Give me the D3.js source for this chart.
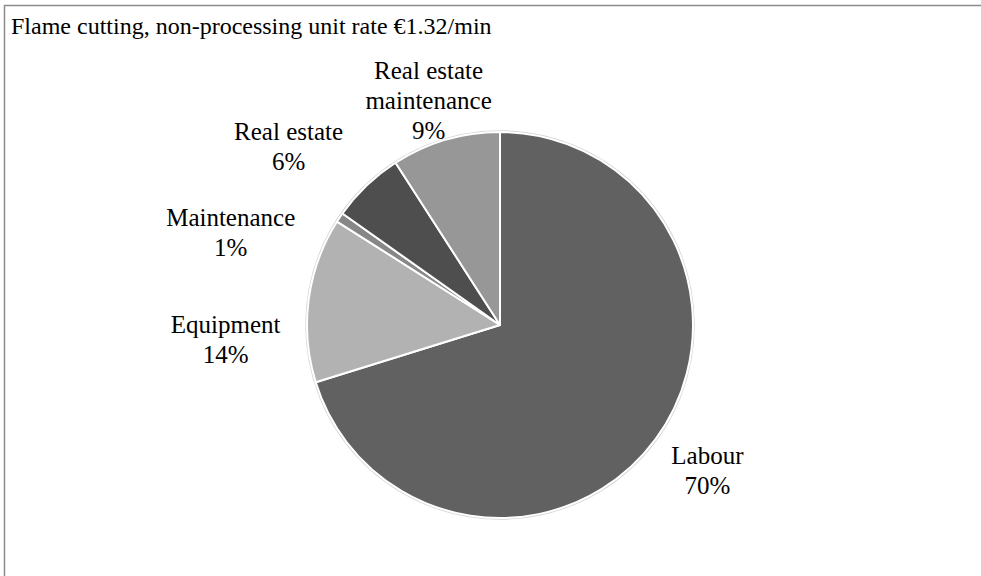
<!DOCTYPE html>
<html>
<head>
<meta charset="utf-8">
<script src="https://cdn.jsdelivr.net/npm/d3@7"></script>
<style>
  html, body { margin: 0; padding: 0; background: #fff; }
  svg { display: block; }
  text { font-family: "Liberation Serif", "Times New Roman", serif; fill: #000; }
</style>
</head>
<body>
<svg id="chart" width="981" height="576"></svg>
<script>
// Cost breakdown of the non-processing unit rate (share of total, %)
const categories = ["Labour", "Equipment", "Maintenance", "Real estate", "Real estate maintenance"];
const shares = [70.2, 13.8, 0.8, 6.1, 9.1];
const labelLines = [["Labour"], ["Equipment"], ["Maintenance"], ["Real estate"], ["Real estate", "maintenance"]];
const sliceColors = ["#616161", "#b2b2b2", "#878787", "#4e4e4e", "#979797"];
const title = "Flame cutting, non-processing unit rate €1.32/min";

// Layout
const width = 981, height = 576;
const cx = 500, cy = 325, radius = 193;
const labelFont = 25, lineGap = 30;
// nudges of each label from the outer midpoint of its slice
const labelNudge = [[52, 25], [-83, 33], [-109, 8], [-78, -46], [-17, -61]];

const svg = d3.select("#chart");

// chart frame
svg.append("rect")
  .attr("x", 4.5).attr("y", 5.5)
  .attr("width", width + 20).attr("height", height + 20)
  .attr("fill", "#fff")
  .attr("stroke", "#8c8c8c")
  .attr("stroke-width", 1.5);

svg.append("text")
  .attr("x", 11).attr("y", 34)
  .attr("font-size", 24)
  .text(title);

const data = categories.map((c, i) => ({ name: c, value: shares[i], lines: labelLines[i], color: sliceColors[i], nudge: labelNudge[i] }));
const total = d3.sum(shares);
const pct = d3.format(".0%");

const pie = d3.pie().value(d => d.value).sort(null);
const arc = d3.arc().innerRadius(0).outerRadius(radius);

const g = svg.append("g").attr("transform", `translate(${cx},${cy})`);

// soft rim around the pie
g.append("circle")
  .attr("r", radius + 0.5)
  .attr("fill", "none")
  .attr("stroke", "#d4d4d4")
  .attr("stroke-width", 2.5);

const arcs = pie(data);

g.selectAll("path.slice")
  .data(arcs)
  .join("path")
  .attr("class", "slice")
  .attr("d", arc)
  .attr("fill", d => d.data.color)
  .attr("stroke", "#fff")
  .attr("stroke-width", 2)
  .attr("stroke-linejoin", "round");

const labels = g.selectAll("text.lbl")
  .data(arcs)
  .join("text")
  .attr("class", "lbl")
  .attr("font-size", labelFont)
  .attr("text-anchor", "middle")
  .attr("transform", d => {
    const mid = (d.startAngle + d.endAngle) / 2;
    const x = Math.sin(mid) * radius + d.data.nudge[0];
    const y = -Math.cos(mid) * radius + d.data.nudge[1];
    return `translate(${x},${y})`;
  });

labels.each(function(d) {
  const t = d3.select(this);
  const lines = d.data.lines.concat([pct(d.data.value / total)]);
  lines.forEach((ln, i) => {
    t.append("tspan").attr("x", 0).attr("y", i * lineGap).text(ln);
  });
});
</script>
</body>
</html>
